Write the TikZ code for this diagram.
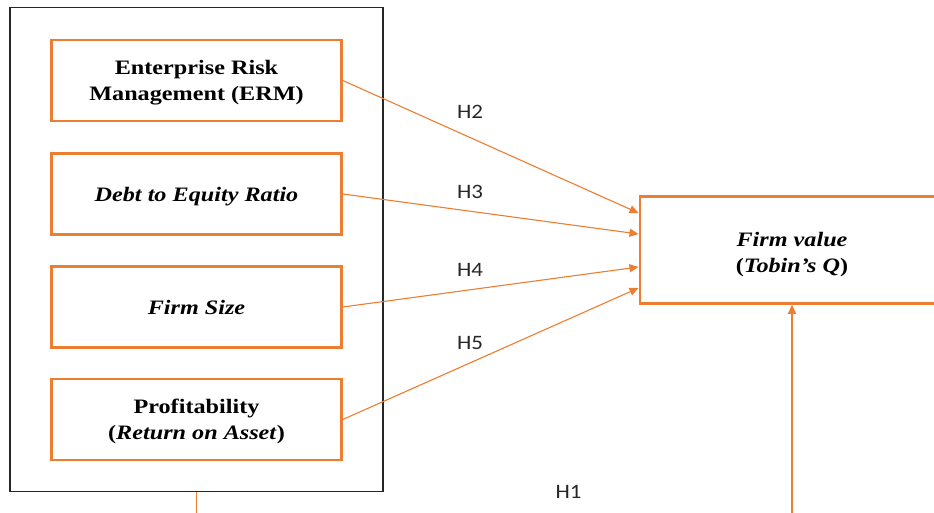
\documentclass[tikz,border=0pt]{standalone}
\usepackage{fontspec}
\setmainfont{Liberation Serif}[FakeStretch=1.18]
\newfontfamily\labfont{Carlito}[FakeStretch=1.12]
\usetikzlibrary{arrows.meta}
\definecolor{orng}{HTML}{ED7D31}
\tikzset{
  varbox/.style={draw=orng, line width=2.6pt, minimum width=290pt, minimum height=81pt,
    align=center, inner sep=0pt, text depth=0pt, font=\fontsize{20.5}{26.5}\selectfont\bfseries},
  link/.style={draw=orng, line width=1.1pt, -{Triangle[length=9pt,width=8pt]}},
  hlab/.style={font=\labfont\fontsize{20.5}{22}\selectfont, text=black!85},
}
\begin{document}
\begin{tikzpicture}[x=1pt,y=-1pt]
\useasboundingbox (0,0) rectangle (934,513);
\clip (0,0) rectangle (934,513);
\node[draw=black!85, line width=1.2pt, minimum width=373pt, minimum height=484pt, inner sep=0pt] (outer) at (196.5,249.5) {};
\node[varbox] (erm) at (196.5,80.5) {Enterprise Risk\\Management (ERM)};
\node[varbox] (der) at (196.5,194) {\itshape Debt to Equity Ratio};
\node[varbox] (size) at (196.5,307) {\itshape Firm Size};
\node[varbox] (roa) at (196.5,419.5) {Profitability\\(\textit{Return on Asset})};
\node[draw=orng, line width=2.6pt, minimum width=340pt, minimum height=107pt, inner sep=0pt, anchor=west] (fv) at (638.5,250) {};
\node[font=\fontsize{20.5}{26}\selectfont\bfseries, align=center, inner sep=0pt] (fvt) at (792,255) {\textit{Firm value}\\(\textit{Tobin's Q})};
\coordinate (a2) at (638.5,213);
\coordinate (a3) at (638.5,234);
\coordinate (a4) at (638.5,267);
\coordinate (a5) at (638.5,288);
\draw[link] (erm.east) -- (a2);
\draw[link] (der.east) -- (a3);
\draw[link] (size.east) -- (a4);
\draw[link] (roa.east) -- (a5);
\coordinate (low) at (196.5,540);
\draw[link] (outer.south) -- (low) -| (fv.south -| 792,0);
\node[hlab] (h2) at (470,112) {H2};
\node[hlab] (h3) at (470,192) {H3};
\node[hlab] (h4) at (470,270) {H4};
\node[hlab] (h5) at (470,343) {H5};
\node[hlab] (h1) at (568.5,492) {H1};
\end{tikzpicture}
\end{document}
